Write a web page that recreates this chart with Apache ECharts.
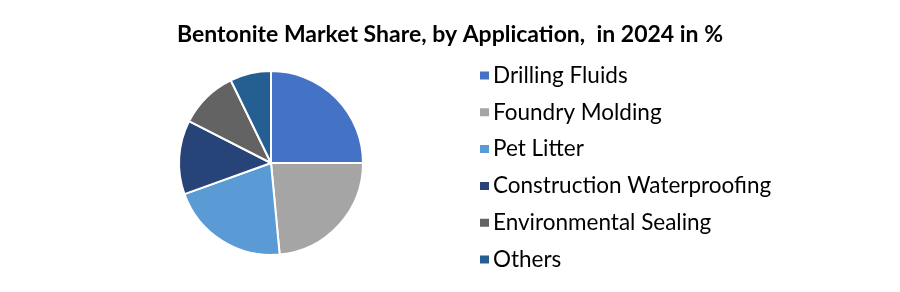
<!DOCTYPE html>
<html><head><meta charset="utf-8">
<script src="https://cdn.jsdelivr.net/npm/echarts@6/dist/echarts.min.js"></script>
<style>html,body{margin:0;padding:0;background:#fff}#c{width:900px;height:292px}</style>
</head><body><div id="c"></div>
<script>
const categories = ["Drilling Fluids","Foundry Molding","Pet Litter","Construction Waterproofing","Environmental Sealing","Others"];
const shares = [25.0, 23.5, 21.0, 13.0, 10.3, 7.2];
const colors = ["#4472C4","#A5A5A5","#5B9BD5","#264478","#636363","#255E91"];
const titleText = "Bentonite Market Share, by Application,  in 2024 in %";

const chart = echarts.init(document.getElementById('c'));
chart.setOption({
  animation: false,
  title: {
    text: titleText, left: 'center', top: 18,
    textStyle: {fontFamily: 'Lato', fontWeight: 'bold', fontSize: 23, color: '#000'}
  },
  legend: {
    orient: 'vertical', left: 473, top: 59, icon: 'rect', itemWidth: 11, itemHeight: 10,
    itemGap: 13.8,
    textStyle: {fontFamily: 'Lato', fontSize: 22.5, color: '#000', padding: [0,0,0,-2]},
    data: categories
  },
  series: [{
    type: 'pie', center: [271, 163], radius: 92, startAngle: 90, clockwise: true,
    label: {show: false}, labelLine: {show: false},
    itemStyle: {borderColor: '#fff', borderWidth: 2},
    data: categories.map((n,i)=>({name:n, value:shares[i], itemStyle:{color:colors[i]}}))
  }]
});
</script></body></html>
